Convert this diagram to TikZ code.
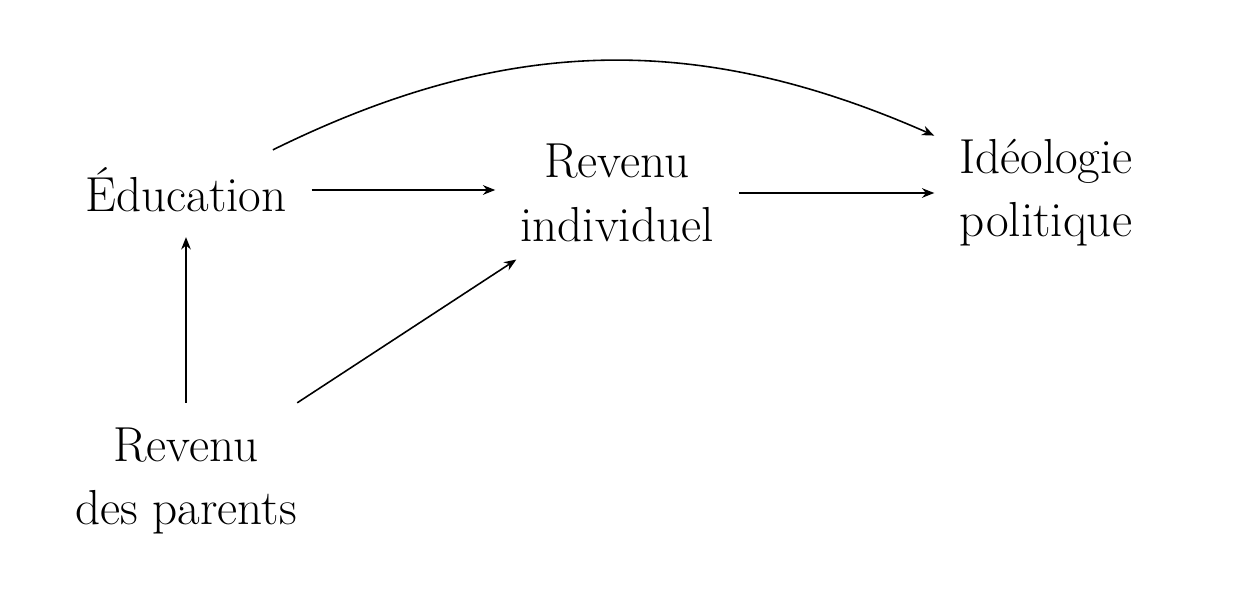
\documentclass[tikz,border=0pt]{standalone}
\usetikzlibrary{arrows.meta}
\begin{document}
\begin{tikzpicture}[x=0.02cm, y=-0.02cm,
    var/.style={font=\fontsize{28}{36}\selectfont, align=center, inner sep=14pt},
    arr/.style={-{Stealth[length=7pt, width=5.5pt]}, line width=0.9pt}]
    % Frame
    \useasboundingbox (0,0) rectangle (1240,604);
    
    % Variables
    \node[var] (edu) at (186,190) {Éducation};
    \node[var] (revind) at (617,193) {Revenu\\individuel};
    \node[var] (ideo) at (1046,193) {Idéologie\\politique};
    \node[var] (parents) at (186,481) {Revenu\\des parents};
    
    % Causal arrows
    \draw[arr] (edu.east) -- (edu.east -| revind.west);
    \draw[arr] (revind.east) -- (revind.east -| ideo.west);
    \draw[arr] (parents.north) -- (edu.south);
    \draw[arr] ([xshift=-14pt]parents.north east) -- ([xshift=12pt, yshift=4pt]revind.south west);
    \draw[arr] ([xshift=-22pt, yshift=-4pt]edu.north east) to[bend left=25] ([yshift=-12pt]ideo.north west);
\end{tikzpicture}
\end{document}
